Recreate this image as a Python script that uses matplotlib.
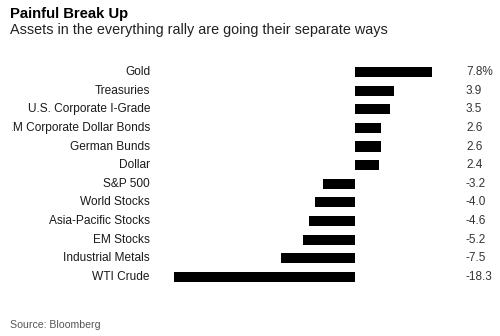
import matplotlib.pyplot as plt
from matplotlib.patches import Rectangle
from matplotlib.transforms import blended_transform_factory

plt.rcParams['font.family'] = ['Liberation Sans', 'DejaVu Sans']

assets = ['Gold', 'Treasuries', 'U.S. Corporate I-Grade', 'EM Corporate Dollar Bonds',
          'German Bunds', 'Dollar', 'S&P 500', 'World Stocks', 'Asia-Pacific Stocks',
          'EM Stocks', 'Industrial Metals', 'WTI Crude']
returns = [7.8, 3.9, 3.5, 2.6, 2.6, 2.4, -3.2, -4.0, -4.6, -5.2, -7.5, -18.3]

fig = plt.figure(figsize=(5, 3.36), dpi=100)
ax = fig.add_axes([0.3436, 0.148, 0.5248, 0.6655])

pos = list(range(len(assets)))
ax.barh(pos, returns, height=0.54, color='black')
ax.set_xlim(-18.5, 8.0)
ax.set_ylim(len(assets) - 0.5, -0.5)
ax.axis('off')

# label column has a fixed left edge; longer names get cut off there
label_clip = Rectangle((0.023, 0), 1, 1, transform=fig.transFigure)

# category names on the left, values on the right, both tied to bar rows
tr = blended_transform_factory(fig.transFigure, ax.transData)
for i, (name, v) in enumerate(zip(assets, returns)):
    t = ax.text(0.300, i, name, transform=tr, ha='right', va='center',
                fontsize=8.6, color='#1a1a1a', clip_on=True)
    t.set_clip_path(label_clip)
    label = f'{v:.1f}%' if i == 0 else f'{v:.1f}'
    ax.text(0.932, i, label, transform=tr, ha='left', va='center',
            fontsize=8.5, color='#333333')

fig.text(0.021, 0.947, 'Painful Break Up', fontsize=10.7, fontweight='bold',
         ha='left', va='baseline', color='black')
fig.text(0.021, 0.898, 'Assets in the everything rally are going their separate ways',
         fontsize=10.4, ha='left', va='baseline', color='#222222')
fig.text(0.021, 0.025, 'Source: Bloomberg', fontsize=7.6, ha='left',
         va='baseline', color='#555555')

fig.savefig('out.png', dpi=100)
